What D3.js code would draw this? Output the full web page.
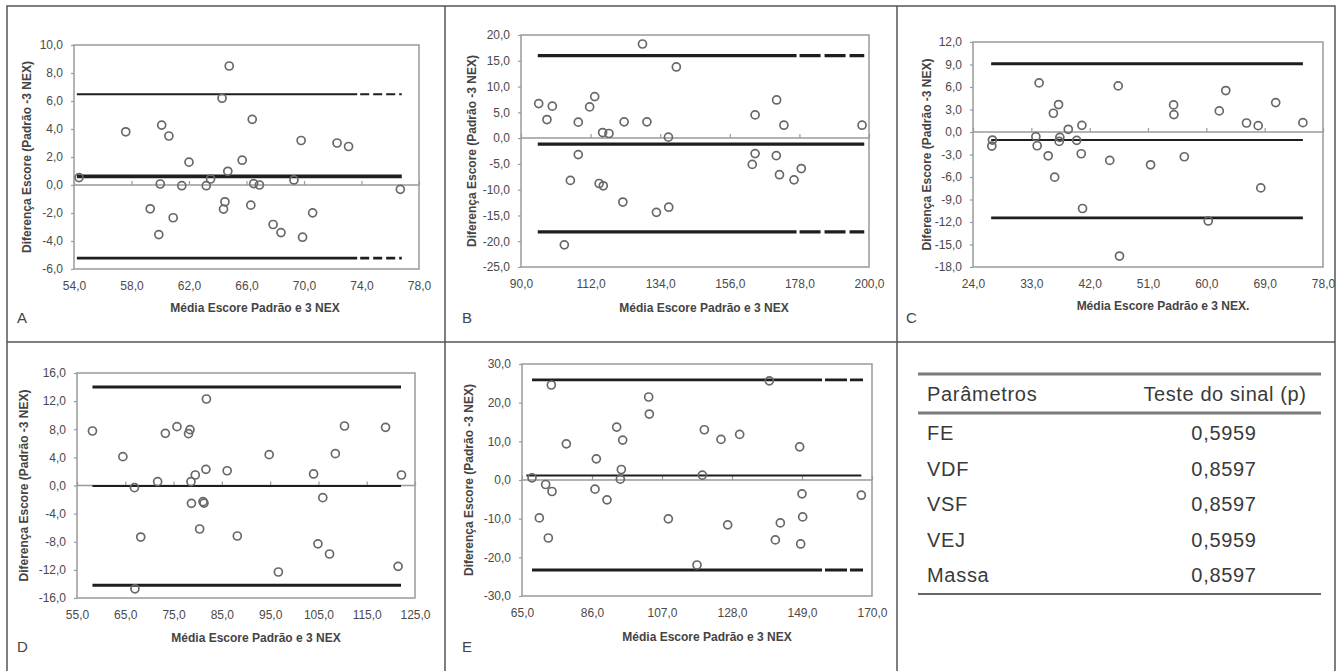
<!DOCTYPE html>
<html><head><meta charset="utf-8">
<script src="https://cdn.jsdelivr.net/npm/d3@7"></script>
<style>
html,body{margin:0;padding:0;background:#fff;}
svg{display:block;font-family:"Liberation Sans",Arial,sans-serif;}
</style></head>
<body><svg id="chart" width="1337" height="671"></svg>
<script>
// ---------- DATA ----------
const xTitle = "Média Escore Padrão e 3 NEX";
const yTitle = "Diferença Escore (Padrão -3 NEX)";

const aX = [54.35,57.6,60.1,60.6,60.0,59.3,59.9,60.9,61.5,62.0,63.2,63.5,64.3,64.8,64.7,64.5,64.4,65.7,66.4,66.5,66.9,66.3,67.85,68.4,69.3,69.8,69.9,70.6,72.3,73.1,76.7];
const aY = [0.53,3.8,4.28,3.5,0.07,-1.7,-3.54,-2.34,-0.05,1.63,-0.05,0.43,6.2,8.5,0.98,-1.2,-1.72,1.77,4.69,0.1,0.0,-1.44,-2.82,-3.4,0.36,3.18,-3.73,-1.99,3.0,2.75,-0.31];
const aXTicks = [54,58,62,66,70,74,78];
const aYTicks = [-6,-4,-2,0,2,4,6,8,10];
const aLines = [6.48, 0.62, -5.22];           // upper, mean, lower
const aLineX = [54.2, 73.7, 76.8];            // start, solid end, end

const bX = [95.6,98.2,99.9,108.1,108.1,105.6,103.7,111.7,113.3,115.8,117.8,114.7,116.0,122.6,122.2,128.4,129.8,132.8,136.7,136.6,139.1,164.0,164.0,163.1,170.8,170.7,171.7,173.1,176.3,178.6,197.8];
const bY = [6.7,3.6,6.2,3.1,-3.2,-8.2,-20.7,6.05,8.05,1.08,0.89,-8.8,-9.25,3.16,-12.4,18.25,3.16,-14.4,-13.4,0.18,13.8,4.5,-3.0,-5.1,7.4,-3.4,-7.1,2.5,-8.1,-5.9,2.5];
const bXTicks = [90,112,134,156,178,200];
const bYTicks = [-25,-20,-15,-10,-5,0,5,10,15,20];
const bLines = [16.0, -1.17, -18.2];
const bLineX = [95.3, 177.1, 198.5];

const cX = [27.0,26.9,34.2,33.7,33.9,35.6,36.4,37.2,36.6,37.4,37.3,38.7,40.0,40.8,40.7,40.9,45.1,46.4,46.6,51.4,54.95,55.0,56.6,60.3,62.0,63.0,66.2,68.0,68.4,70.7,74.9];
const cY = [-1.07,-1.87,6.55,-0.62,-1.83,-3.17,2.5,3.66,-6.02,-0.71,-1.25,0.36,-1.11,0.89,-2.9,-10.2,-3.79,6.15,-16.54,-4.37,3.61,2.32,-3.3,-11.86,2.81,5.53,1.2,0.85,-7.45,3.92,1.25];
const cXTicks = [24,33,42,51,60,69,78];
const cYTicks = [-18,-15,-12,-9,-6,-3,0,3,6,9,12];
const cLines = [9.1, -1.07, -11.46];
const cLineX = [26.8, 74.9, 74.9];

const dX = [58.2,64.5,66.9,67.0,68.2,71.7,73.3,75.7,78.1,78.4,78.6,78.7,79.5,80.4,81.1,81.3,81.7,81.8,86.1,88.2,94.8,96.7,104.0,104.9,105.9,108.5,107.3,110.4,118.9,121.5,122.2];
const dY = [7.75,4.1,-0.31,-14.7,-7.33,0.55,7.42,8.37,7.37,7.94,0.55,-2.54,1.49,-6.19,-2.3,-2.5,2.3,12.3,2.1,-7.18,4.39,-12.3,1.64,-8.3,-1.73,4.53,-9.74,8.46,8.27,-11.5,1.49];
const dXTicks = [55,65,75,85,95,105,115,125];
const dYTicks = [-16,-12,-8,-4,0,4,8,12,16];
const dLines = [14.0, -0.07, -14.2];
const dLineX = [58.2, 122.1, 122.1];

const eX = [68.0,72.1,73.8,74.0,70.2,72.9,78.3,87.3,86.9,90.5,93.4,95.2,94.8,94.5,103.0,103.2,108.9,117.5,119.1,119.7,124.7,126.7,130.3,139.2,141.0,142.5,148.3,149.0,149.2,148.6,166.8];
const eY = [0.56,-1.17,24.57,-2.98,-9.8,-15.0,9.35,5.48,-2.37,-5.14,13.69,10.32,2.72,0.22,21.46,17.06,-10.05,-21.98,1.25,12.99,10.49,-11.6,11.79,25.65,-15.5,-11.1,8.57,-3.58,-9.54,-16.54,-3.93];
const eXTicks = [65,86,107,128,149,170];
const eYTicks = [-30,-20,-10,0,10,20,30];
const eLines = [25.87, 1.17, -23.27];
const eLineX = [68.0, 155.0, 167.3];
const eMeanX = [66.3, 166.8];

const tableHeader = ["Parâmetros", "Teste do sinal (p)"];
const tableParams = ["FE","VDF","VSF","VEJ","Massa"];
const tablePValues = ["0,5959","0,8597","0,8597","0,5959","0,8597"];

// ---------- DRAWING ----------
const svg = d3.select("#chart");
const fmt = d => d.toFixed(1).replace(".", ",");
const TXT = "#4a4a4a";

function panel(o) {
  const g = svg.append("g");
  const x = d3.scaleLinear().domain(d3.extent(o.xTicks)).range([o.left, o.right]);
  const y = d3.scaleLinear().domain(d3.extent(o.yTicks)).range([o.bottom, o.top]);

  g.append("rect").attr("x", o.left).attr("y", o.top)
    .attr("width", o.right - o.left).attr("height", o.bottom - o.top)
    .attr("fill", "none").attr("stroke", "#9a9a9a").attr("stroke-width", 1.5);

  const ya = d3.axisLeft(y).tickValues(o.yTicks).tickFormat(fmt).tickSize(3).tickPadding(8);
  const yg = g.append("g").attr("transform", `translate(${o.left},0)`).call(ya);
  yg.select(".domain").remove();
  yg.selectAll(".tick line").attr("stroke", "#9a9a9a").attr("stroke-width", 1.2);
  yg.selectAll("text").attr("font-size", 12).attr("fill", TXT).attr("font-family", "Liberation Sans, Arial");

  const y0 = y(0);
  g.append("line").attr("x1", o.left).attr("x2", o.right).attr("y1", y0).attr("y2", y0)
    .attr("stroke", "#9a9a9a").attr("stroke-width", 1.5);
  const xa = d3.axisTop(x).tickValues(o.xTicks).tickFormat("").tickSize(4);
  const xg = g.append("g").attr("transform", `translate(0,${y0})`).call(xa);
  xg.select(".domain").remove();
  xg.selectAll(".tick line").attr("stroke", "#9a9a9a").attr("stroke-width", 1.2);

  const xl = d3.axisBottom(x).tickValues(o.xTicks).tickFormat(fmt).tickSize(0).tickPadding(12);
  const xlg = g.append("g").attr("transform", `translate(0,${o.bottom})`).call(xl);
  xlg.select(".domain").remove();
  xlg.selectAll("text").attr("font-size", 12).attr("fill", TXT).attr("font-family", "Liberation Sans, Arial");

  const widths = o.widths;
  o.lines.forEach((v, i) => {
    const xs = (i === 1 && o.meanX) ? o.meanX : [o.lineX[0], o.lineX[2]];
    const solidEnd = (i === 1) ? xs[1] : o.lineX[1];
    const dashed = i !== 1 && solidEnd < xs[1];
    g.append("line").attr("x1", x(xs[0])).attr("x2", x(dashed ? solidEnd : xs[1]))
      .attr("y1", y(v)).attr("y2", y(v)).attr("stroke", "#1e1e1e").attr("stroke-width", widths[i]);
    if (dashed) {
      g.append("line").attr("x1", x(solidEnd) + o.dashGap).attr("x2", x(xs[1]))
        .attr("y1", y(v)).attr("y2", y(v)).attr("stroke", "#1e1e1e").attr("stroke-width", widths[i])
        .attr("stroke-dasharray", o.dash);
    }
  });

  g.selectAll("circle.pt").data(o.xs.map((d, i) => [d, o.ys[i]])).enter()
    .append("circle").attr("class", "pt")
    .attr("cx", d => x(d[0])).attr("cy", d => y(d[1])).attr("r", 4)
    .attr("fill", "none").attr("stroke", "#686868").attr("stroke-width", 1.7);

  g.append("text").attr("x", o.xtX).attr("y", o.xtY).attr("text-anchor", "middle")
    .attr("font-size", 12).attr("font-weight", "bold").attr("fill", "#444").text(o.xTitle || xTitle);
  g.append("text").attr("transform", `translate(${o.ytX},${(o.top + o.bottom) / 2}) rotate(-90)`)
    .attr("text-anchor", "middle").attr("font-size", 12).attr("font-weight", "bold").attr("fill", "#444")
    .text(yTitle);
  g.append("text").attr("x", o.letterX).attr("y", o.letterY).attr("font-size", 15)
    .attr("fill", "#444").text(o.letter);
}

const frame = svg.append("g").attr("stroke", "#555").attr("stroke-width", 1.5);
frame.append("rect").attr("x", 7).attr("y", 6).attr("width", 1328).attr("height", 680).attr("fill", "none");
frame.append("line").attr("x1", 445).attr("x2", 445).attr("y1", 6).attr("y2", 671);
frame.append("line").attr("x1", 897).attr("x2", 897).attr("y1", 6).attr("y2", 671);
frame.append("line").attr("x1", 7).attr("x2", 1335).attr("y1", 342).attr("y2", 342);

panel({letter: "A", xs: aX, ys: aY, xTicks: aXTicks, yTicks: aYTicks, lines: aLines, lineX: aLineX,
  left: 74, right: 419, top: 45, bottom: 269, widths: [2, 3.8, 2.7], dash: "9,4", dashGap: 3,
  xtX: 255, xtY: 312, ytX: 31, letterX: 17, letterY: 323});
panel({letter: "B", xs: bX, ys: bY, xTicks: bXTicks, yTicks: bYTicks, lines: bLines, lineX: bLineX,
  left: 521, right: 869, top: 35, bottom: 267, widths: [3.3, 3.3, 3.3], dash: "21,4", dashGap: 3,
  xtX: 704, xtY: 312, ytX: 476, letterX: 462, letterY: 323});
panel({letter: "C", xs: cX, ys: cY, xTicks: cXTicks, yTicks: cYTicks, lines: cLines, lineX: cLineX,
  left: 973, right: 1323, top: 42, bottom: 267, widths: [2.8, 2, 2.8], dash: "20,4", dashGap: 3,
  xtX: 1163, xtY: 310, ytX: 931, letterX: 906, letterY: 323, xTitle: xTitle + "."});
panel({letter: "D", xs: dX, ys: dY, xTicks: dXTicks, yTicks: dYTicks, lines: dLines, lineX: dLineX,
  left: 77, right: 415, top: 373, bottom: 598, widths: [3, 2, 3], dash: "20,4", dashGap: 3,
  xtX: 256, xtY: 642, ytX: 28, letterX: 17, letterY: 652});
panel({letter: "E", xs: eX, ys: eY, xTicks: eXTicks, yTicks: eYTicks, lines: eLines, lineX: eLineX, meanX: eMeanX,
  left: 522, right: 872, top: 364, bottom: 596, widths: [2.8, 2, 2.8], dash: "22,3", dashGap: 3,
  xtX: 707, xtY: 641, ytX: 473, letterX: 462, letterY: 652});

const t = svg.append("g").attr("font-family", "Liberation Sans, Arial").attr("fill", "#3a3a3a");
t.append("line").attr("x1", 918).attr("x2", 1321).attr("y1", 374).attr("y2", 374).attr("stroke", "#7a7a7a").attr("stroke-width", 3);
t.append("line").attr("x1", 918).attr("x2", 1321).attr("y1", 413).attr("y2", 413).attr("stroke", "#7a7a7a").attr("stroke-width", 3);
t.append("line").attr("x1", 918).attr("x2", 1321).attr("y1", 594).attr("y2", 594).attr("stroke", "#666").attr("stroke-width", 2);
t.append("text").attr("x", 927).attr("y", 401).attr("font-size", 20).attr("letter-spacing", 0.7).text(tableHeader[0]);
t.append("text").attr("x", 1225).attr("y", 401).attr("text-anchor", "middle").attr("font-size", 20).attr("letter-spacing", 0.6).text(tableHeader[1]);
const rowY = d3.scalePoint().domain(tableParams).range([440, 582]);
tableParams.forEach((p, i) => {
  t.append("text").attr("x", 927).attr("y", rowY(p)).attr("font-size", 20).attr("letter-spacing", 0.7).text(p);
  t.append("text").attr("x", 1224).attr("y", rowY(p)).attr("text-anchor", "middle").attr("font-size", 20).attr("letter-spacing", 0.7).text(tablePValues[i]);
});
</script></body></html>
